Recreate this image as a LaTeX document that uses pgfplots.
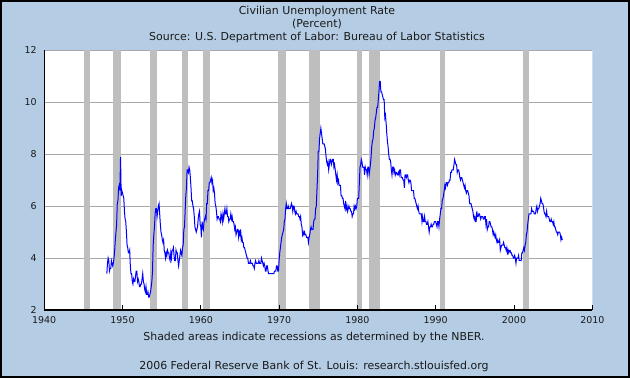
\documentclass[border=0pt]{standalone}
\usepackage{pgfplots}
\pgfplotsset{compat=1.18}
\usepackage{fontspec}
\setmainfont{DejaVu Sans}
\definecolor{bgblue}{HTML}{B4CDE4}
\definecolor{recgray}{HTML}{BEBEBE}
\definecolor{gridgray}{HTML}{A8A8A8}
\definecolor{txt}{HTML}{1A1A1A}
\definecolor{lineblue}{HTML}{0000FF}
\begin{document}
\begin{tikzpicture}
\path[use as bounding box] (0bp,0bp) rectangle (630bp,378bp);
\fill[bgblue, even odd rule] (0bp,0bp) rectangle (630bp,378bp) (44.2bp,68bp) rectangle (592.3bp,327.7bp);
\draw[black, line width=2bp] (1bp,1bp) rectangle (629bp,377bp);
\node[txt, font=\fontsize{11}{13}\selectfont] at (317bp,366.5bp) {Civilian Unemployment Rate};
\node[txt, font=\fontsize{11}{13}\selectfont] at (317bp,353.5bp) {(Percent)};
\node[txt, font=\fontsize{11}{13}\selectfont] at (317bp,340.5bp) {Source: U.S. Department of Labor: Bureau of Labor Statistics};
\node[txt, font=\fontsize{11}{13}\selectfont] at (314bp,40.5bp) {Shaded areas indicate recessions as determined by the NBER.};
\node[txt, font=\fontsize{11}{13}\selectfont] at (314bp,12bp) {2006 Federal Reserve Bank of St. Louis: research.stlouisfed.org};
\begin{axis}[
  at={(44.2bp,68bp)}, anchor=south west,
  scale only axis, width=548.1bp, height=259.7bp,
  xmin=1940, xmax=2010, ymin=2, ymax=12,
  axis x line*=bottom, axis y line*=left,
  axis line style={-, black, line width=1.2bp},
  axis background/.style={fill=white},
  axis on top,
  clip=false,
  xtick={1940,1950,1960,1970,1980,1990,2000,2010},
  xticklabels={1940,1950,1960,1970,1980,1990,2000,2010},
  ytick={2,4,6,8,10,12},
  yticklabels={2,4,6,8,10,12},
  tick align=inside,
  major tick length=5bp,
  xtick style={black, line width=1bp},
  ytick style={draw=none},
  ticklabel style={txt, font=\fontsize{9.5}{11}\selectfont},
  xticklabel style={yshift=-3bp},
  yticklabel style={xshift=-4bp},
]
% horizontal grid lines
\addplot[gridgray, line width=1bp] coordinates {(1940,4) (2010,4)};
\addplot[gridgray, line width=1bp] coordinates {(1940,6) (2010,6)};
\addplot[gridgray, line width=1bp] coordinates {(1940,8) (2010,8)};
\addplot[gridgray, line width=1bp] coordinates {(1940,10) (2010,10)};
\addplot[gridgray, line width=1bp] coordinates {(1940,12) (2010,12)};
% NBER recessions
\addplot[fill=recgray, draw=none] coordinates {(1945.083,2) (1945.083,12) (1945.833,12) (1945.833,2)};
\addplot[fill=recgray, draw=none] coordinates {(1948.833,2) (1948.833,12) (1949.833,12) (1949.833,2)};
\addplot[fill=recgray, draw=none] coordinates {(1953.500,2) (1953.500,12) (1954.417,12) (1954.417,2)};
\addplot[fill=recgray, draw=none] coordinates {(1957.583,2) (1957.583,12) (1958.333,12) (1958.333,2)};
\addplot[fill=recgray, draw=none] coordinates {(1960.250,2) (1960.250,12) (1961.167,12) (1961.167,2)};
\addplot[fill=recgray, draw=none] coordinates {(1969.917,2) (1969.917,12) (1970.917,12) (1970.917,2)};
\addplot[fill=recgray, draw=none] coordinates {(1973.833,2) (1973.833,12) (1975.250,12) (1975.250,2)};
\addplot[fill=recgray, draw=none] coordinates {(1980.000,2) (1980.000,12) (1980.583,12) (1980.583,2)};
\addplot[fill=recgray, draw=none] coordinates {(1981.500,2) (1981.500,12) (1982.917,12) (1982.917,2)};
\addplot[fill=recgray, draw=none] coordinates {(1990.500,2) (1990.500,12) (1991.250,12) (1991.250,2)};
\addplot[fill=recgray, draw=none] coordinates {(2001.167,2) (2001.167,12) (2001.917,12) (2001.917,2)};
% Civilian unemployment rate, monthly, Jan 1948 - Mar 2006
\addplot[lineblue, line width=1bp] table[row sep=\\, header=false, x expr={1948+\coordindex/12}, y index=0] {
3.4\\3.8\\4.0\\3.9\\3.5\\3.6\\3.6\\3.9\\3.8\\3.7\\3.8\\4.0\\
4.3\\4.7\\5.0\\5.3\\6.1\\6.2\\6.7\\6.8\\6.6\\7.9\\6.4\\6.6\\
6.5\\6.4\\6.3\\5.8\\5.5\\5.4\\5.0\\4.5\\4.4\\4.2\\4.2\\4.3\\
3.7\\3.4\\3.4\\3.1\\3.0\\3.2\\3.1\\3.1\\3.3\\3.5\\3.5\\3.1\\
3.2\\3.1\\2.9\\2.9\\3.0\\3.0\\3.2\\3.4\\3.1\\3.0\\2.8\\2.7\\
2.9\\2.6\\2.6\\2.7\\2.5\\2.5\\2.6\\2.7\\2.9\\3.1\\3.5\\4.5\\
4.9\\5.2\\5.7\\5.9\\5.9\\5.6\\5.8\\6.0\\6.1\\5.7\\5.3\\5.0\\
4.9\\4.7\\4.6\\4.7\\4.3\\4.2\\4.0\\4.2\\4.1\\4.3\\4.2\\4.2\\
4.0\\3.9\\4.2\\4.0\\4.3\\4.3\\4.4\\4.1\\3.9\\3.9\\4.3\\4.2\\
4.2\\3.9\\3.7\\3.9\\4.1\\4.3\\4.2\\4.1\\4.4\\4.5\\5.1\\5.2\\
5.8\\6.4\\6.7\\7.4\\7.4\\7.3\\7.5\\7.4\\7.1\\6.7\\6.2\\6.2\\
6.0\\5.9\\5.6\\5.2\\5.1\\5.0\\5.1\\5.2\\5.5\\5.7\\5.8\\5.3\\
5.2\\4.8\\5.4\\5.2\\5.1\\5.4\\5.5\\5.6\\5.5\\6.1\\6.1\\6.6\\
6.6\\6.9\\6.9\\7.0\\7.1\\6.9\\7.0\\6.6\\6.7\\6.5\\6.1\\6.0\\
5.8\\5.5\\5.6\\5.6\\5.5\\5.5\\5.4\\5.7\\5.6\\5.4\\5.7\\5.5\\
5.7\\5.9\\5.7\\5.7\\5.9\\5.6\\5.6\\5.4\\5.5\\5.5\\5.7\\5.5\\
5.6\\5.4\\5.4\\5.3\\5.1\\5.2\\4.9\\5.0\\5.1\\5.1\\4.8\\5.0\\
4.9\\5.1\\4.7\\4.8\\4.6\\4.6\\4.4\\4.4\\4.3\\4.2\\4.1\\4.0\\
4.0\\3.8\\3.8\\3.8\\3.9\\3.8\\3.8\\3.8\\3.7\\3.7\\3.6\\3.8\\
3.9\\3.8\\3.8\\3.8\\3.8\\3.9\\3.8\\3.8\\3.8\\4.0\\3.9\\3.8\\
3.7\\3.8\\3.7\\3.5\\3.5\\3.7\\3.7\\3.5\\3.4\\3.4\\3.4\\3.4\\
3.4\\3.4\\3.4\\3.4\\3.4\\3.5\\3.5\\3.5\\3.7\\3.7\\3.5\\3.5\\
3.9\\4.2\\4.4\\4.6\\4.8\\4.9\\5.0\\5.1\\5.4\\5.5\\5.9\\6.1\\
5.9\\5.9\\6.0\\5.9\\5.9\\5.9\\6.0\\6.1\\6.0\\5.8\\6.0\\6.0\\
5.8\\5.7\\5.8\\5.7\\5.7\\5.7\\5.6\\5.6\\5.5\\5.6\\5.3\\5.2\\
4.9\\5.0\\4.9\\5.0\\4.9\\4.9\\4.8\\4.8\\4.8\\4.6\\4.8\\4.9\\
5.1\\5.2\\5.1\\5.1\\5.1\\5.4\\5.5\\5.5\\5.9\\6.0\\6.6\\7.2\\
8.1\\8.1\\8.6\\8.8\\9.0\\8.8\\8.6\\8.4\\8.4\\8.4\\8.3\\8.2\\
7.9\\7.7\\7.6\\7.7\\7.4\\7.6\\7.8\\7.8\\7.6\\7.7\\7.8\\7.8\\
7.5\\7.6\\7.4\\7.2\\7.0\\7.2\\6.9\\7.0\\6.8\\6.8\\6.8\\6.4\\
6.4\\6.3\\6.3\\6.1\\6.0\\5.9\\6.2\\5.9\\6.0\\5.8\\5.9\\6.0\\
5.9\\5.9\\5.8\\5.8\\5.6\\5.7\\5.7\\6.0\\5.9\\6.0\\5.9\\6.0\\
6.3\\6.3\\6.3\\6.9\\7.5\\7.6\\7.8\\7.7\\7.5\\7.5\\7.5\\7.2\\
7.5\\7.4\\7.4\\7.2\\7.5\\7.5\\7.2\\7.4\\7.6\\7.9\\8.3\\8.5\\
8.6\\8.9\\9.0\\9.3\\9.4\\9.6\\9.8\\9.8\\10.1\\10.4\\10.8\\10.8\\
10.4\\10.4\\10.3\\10.2\\10.1\\10.1\\9.4\\9.5\\9.2\\8.8\\8.5\\8.3\\
8.0\\7.8\\7.8\\7.7\\7.4\\7.2\\7.5\\7.5\\7.3\\7.4\\7.2\\7.3\\
7.3\\7.2\\7.2\\7.3\\7.2\\7.4\\7.4\\7.1\\7.1\\7.1\\7.0\\7.0\\
6.7\\7.2\\7.2\\7.1\\7.2\\7.2\\7.0\\6.9\\7.0\\7.0\\6.9\\6.6\\
6.6\\6.6\\6.6\\6.3\\6.3\\6.2\\6.1\\6.0\\5.9\\6.0\\5.8\\5.7\\
5.7\\5.7\\5.7\\5.4\\5.6\\5.4\\5.4\\5.6\\5.4\\5.4\\5.3\\5.3\\
5.4\\5.2\\5.0\\5.2\\5.2\\5.3\\5.2\\5.2\\5.3\\5.3\\5.4\\5.4\\
5.4\\5.3\\5.2\\5.4\\5.4\\5.2\\5.5\\5.7\\5.9\\5.9\\6.2\\6.3\\
6.4\\6.6\\6.8\\6.7\\6.9\\6.9\\6.8\\6.9\\6.9\\7.0\\7.0\\7.3\\
7.3\\7.4\\7.4\\7.4\\7.6\\7.8\\7.7\\7.6\\7.6\\7.3\\7.4\\7.4\\
7.3\\7.1\\7.0\\7.1\\7.1\\7.0\\6.9\\6.8\\6.7\\6.8\\6.6\\6.5\\
6.6\\6.6\\6.5\\6.4\\6.1\\6.1\\6.1\\6.0\\5.9\\5.8\\5.6\\5.5\\
5.6\\5.4\\5.4\\5.8\\5.6\\5.6\\5.7\\5.7\\5.6\\5.5\\5.6\\5.6\\
5.6\\5.5\\5.5\\5.6\\5.6\\5.3\\5.5\\5.1\\5.2\\5.2\\5.4\\5.4\\
5.3\\5.2\\5.2\\5.1\\4.9\\5.0\\4.9\\4.8\\4.9\\4.7\\4.6\\4.7\\
4.6\\4.6\\4.7\\4.3\\4.4\\4.5\\4.5\\4.5\\4.6\\4.5\\4.4\\4.4\\
4.3\\4.4\\4.2\\4.3\\4.2\\4.3\\4.3\\4.2\\4.2\\4.1\\4.1\\4.0\\
4.0\\4.1\\4.0\\3.8\\4.0\\4.0\\4.0\\4.1\\3.9\\3.9\\3.9\\3.9\\
4.2\\4.2\\4.3\\4.4\\4.3\\4.5\\4.6\\4.9\\5.0\\5.3\\5.5\\5.7\\
5.7\\5.7\\5.7\\5.9\\5.8\\5.8\\5.8\\5.7\\5.7\\5.7\\5.9\\6.0\\
5.8\\5.9\\5.9\\6.0\\6.1\\6.3\\6.2\\6.1\\6.1\\6.0\\5.8\\5.7\\
5.7\\5.6\\5.8\\5.6\\5.6\\5.6\\5.5\\5.4\\5.4\\5.5\\5.4\\5.4\\
5.3\\5.4\\5.2\\5.2\\5.1\\5.0\\5.0\\4.9\\5.0\\5.0\\5.0\\4.9\\
4.7\\4.8\\4.7\\
};
\end{axis}
\end{tikzpicture}
\end{document}
